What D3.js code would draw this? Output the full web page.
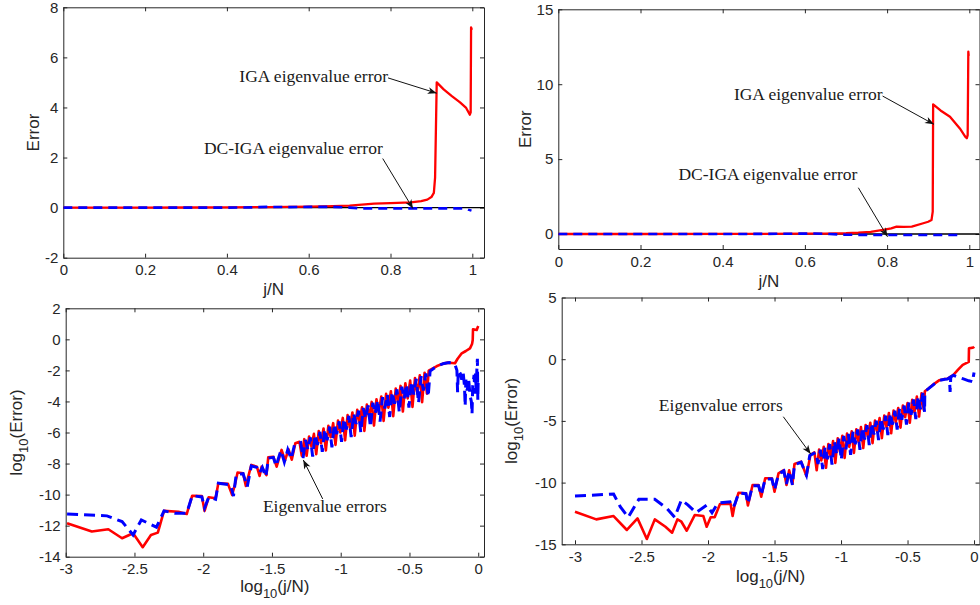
<!DOCTYPE html>
<html>
<head>
<meta charset="utf-8">
<script src="https://cdn.jsdelivr.net/npm/d3@7"></script>
<style>
  body { margin: 0; background: #fff; }
  svg { display: block; }
  .axis { color: #262626; }
  .axis .tick text { font-family: "Liberation Sans", Arial, sans-serif; font-size: 15px; fill: #262626; }
  .lab { font-family: "Liberation Sans", Arial, sans-serif; font-size: 17px; fill: #262626; }
  .note { font-family: "Liberation Serif", "Times New Roman", serif; font-size: 17.5px; fill: #1a1a1a; }
</style>
</head>
<body>
<div id="chart"></div>
<script>
// ---- data ----
// top row: error vs j/N
const igaTopA = [[0,0],[0.1,0],[0.2,0.002],[0.3,0.005],[0.4,0.01],[0.5,0.02],[0.55,0.03],[0.6,0.04],[0.66,0.056],[0.7,0.08],[0.76,0.16],[0.8,0.18],[0.85,0.21],[0.875,0.26],[0.89,0.32],[0.9,0.42],[0.906,0.59],[0.909,1.2],[0.913,5.0],[0.93,4.72],[0.95,4.45],[0.97,4.2],[0.985,3.98],[0.994,3.71],[0.996,3.8],[0.997,7.2],[0.999,7.1]];
const dcTopA = [[0,0],[0.1,0],[0.2,0],[0.3,0],[0.4,0],[0.46,0.01],[0.5,0.03],[0.55,0.02],[0.6,0.03],[0.66,0.03],[0.7,0],[0.73,-0.03],[0.8,-0.03],[0.9,-0.03],[0.96,-0.03],[0.985,-0.04],[0.99,-0.08],[0.998,-0.12]];
const igaTopB = [[0,0],[0.2,0],[0.4,0.005],[0.5,0.01],[0.6,0.02],[0.65,0.03],[0.7,0.05],[0.73,0.09],[0.76,0.15],[0.79,0.27],[0.81,0.38],[0.823,0.49],[0.84,0.48],[0.86,0.5],[0.888,0.72],[0.9,0.82],[0.908,0.93],[0.911,1.5],[0.912,8.66],[0.93,8.25],[0.953,7.83],[0.977,7.05],[0.99,6.5],[0.994,6.39],[0.996,6.6],[0.9976,12.17],[0.9985,11.9]];
const dcTopB = [[0,0],[0.2,0],[0.4,0],[0.5,0.01],[0.55,0.02],[0.62,0.03],[0.66,0],[0.7,-0.05],[0.8,-0.07],[0.9,-0.07],[0.98,-0.06]];

// bottom row: log10(error) vs log10(j/N)
const logIgaA = [[-2.99,-11.84],[-2.81,-12.38],[-2.69,-12.23],[-2.59,-12.81],[-2.51,-12.49],[-2.44,-13.39],[-2.38,-12.6],[-2.33,-12.45],[-2.285,-11.05],[-2.18,-11.1],[-2.12,-11.25],[-2.08,-10.07],[-2.01,-10.09],[-1.99,-11.05],[-1.96,-10.17],[-1.91,-10.23],[-1.89,-9.27],[-1.82,-9.31],[-1.79,-10.02],[-1.77,-9.38],[-1.75,-8.58],[-1.71,-8.62],[-1.69,-9.44],[-1.65,-8.09],[-1.61,-8.2],[-1.59,-8.8],[-1.575,-8.2],[-1.54,-8.75],[-1.527,-7.6],[-1.49,-7.56],[-1.466,-8.2],[-1.43,-7.12],[-1.405,-7.8],[-1.38,-7.08],[-1.356,-7.75],[-1.33,-6.69],[-1.3,-6.6],[-1.283,-7.5],[-1.265,-6.43],[-1.248,-7.5],[-1.23,-6.26],[-1.213,-6.9],[-1.195,-6.09],[-1.178,-7.4],[-1.16,-5.91],[-1.143,-6.7],[-1.125,-5.74],[-1.108,-7.15],[-1.09,-5.57],[-1.073,-6.3],[-1.055,-5.4],[-1.038,-6.8],[-1.02,-5.23],[-1.003,-6.0],[-0.985,-5.06],[-0.968,-6.5],[-0.95,-4.88],[-0.933,-5.7],[-0.915,-4.71],[-0.898,-6.2],[-0.88,-4.54],[-0.863,-5.3],[-0.845,-4.37],[-0.828,-5.9],[-0.81,-4.2],[-0.793,-5.0],[-0.775,-4.03],[-0.758,-5.55],[-0.74,-3.86],[-0.723,-4.7],[-0.705,-3.68],[-0.688,-5.25],[-0.67,-3.51],[-0.653,-4.4],[-0.635,-3.34],[-0.618,-4.95],[-0.6,-3.17],[-0.583,-4.1],[-0.565,-3.0],[-0.548,-4.65],[-0.53,-2.83],[-0.513,-3.8],[-0.495,-2.66],[-0.478,-4.35],[-0.46,-2.49],[-0.443,-3.5],[-0.425,-2.32],[-0.408,-4.05],[-0.39,-2.15],[-0.373,-3.5],[-0.36,-2.02],[-0.33,-1.87],[-0.3,-1.72],[-0.26,-1.58],[-0.22,-1.5],[-0.19,-1.52],[-0.169,-1.54],[-0.15,-1.25],[-0.12,-0.9],[-0.09,-0.75],[-0.06,-0.58],[-0.045,-0.3],[-0.04,-0.04],[-0.038,0.65],[-0.02,0.62],[-0.011,0.6],[-0.005,0.75],[0,0.86]];
const logDcA = [[-2.99,-11.25],[-2.7,-11.37],[-2.59,-11.74],[-2.51,-12.6],[-2.45,-11.63],[-2.34,-12.1],[-2.285,-11.05],[-2.205,-11.2],[-2.12,-11.2],[-2.08,-10.07],[-2.01,-10.15],[-1.99,-10.85],[-1.96,-10.17],[-1.91,-10.3],[-1.89,-9.27],[-1.8,-9.38],[-1.78,-10.1],[-1.76,-8.7],[-1.71,-8.65],[-1.68,-9.5],[-1.65,-8.15],[-1.61,-8.25],[-1.59,-8.6],[-1.57,-8.25],[-1.545,-8.85],[-1.525,-7.65],[-1.49,-7.6],[-1.47,-8.15],[-1.435,-7.15],[-1.41,-7.9],[-1.385,-7.1],[-1.36,-7.7],[-1.335,-6.75],[-1.291,-6.65],[-1.274,-7.65],[-1.256,-6.48],[-1.239,-7.1],[-1.221,-6.31],[-1.204,-7.55],[-1.186,-6.14],[-1.169,-6.8],[-1.151,-5.96],[-1.134,-7.25],[-1.116,-5.79],[-1.099,-6.5],[-1.081,-5.62],[-1.064,-6.95],[-1.046,-5.45],[-1.029,-6.1],[-1.011,-5.28],[-0.994,-6.6],[-0.976,-5.11],[-0.959,-5.8],[-0.941,-4.93],[-0.924,-6.3],[-0.906,-4.76],[-0.889,-5.45],[-0.871,-4.59],[-0.854,-6.0],[-0.836,-4.42],[-0.819,-5.1],[-0.801,-4.25],[-0.784,-5.65],[-0.766,-4.08],[-0.749,-4.8],[-0.731,-3.91],[-0.714,-5.3],[-0.696,-3.73],[-0.679,-4.45],[-0.661,-3.56],[-0.644,-5.0],[-0.626,-3.39],[-0.609,-4.15],[-0.591,-3.22],[-0.574,-4.7],[-0.556,-3.05],[-0.539,-3.85],[-0.521,-2.88],[-0.504,-4.4],[-0.486,-2.71],[-0.469,-3.55],[-0.451,-2.54],[-0.434,-4.1],[-0.416,-2.37],[-0.399,-3.3],[-0.381,-2.2],[-0.364,-3.7],[-0.35,-2.05],[-0.32,-1.85],[-0.29,-1.7],[-0.25,-1.55],[-0.21,-1.5],[-0.19,-1.55],[-0.17,-1.6],[-0.155,-2.0],[-0.15,-3.4],[-0.145,-2.0],[-0.13,-2.2],[-0.12,-2.6],[-0.11,-2.1],[-0.1,-3.0],[-0.095,-4.3],[-0.09,-2.6],[-0.08,-3.3],[-0.07,-2.5],[-0.06,-3.6],[-0.05,-4.0],[-0.045,-4.8],[-0.04,-3.0],[-0.03,-2.3],[-0.025,-3.5],[-0.02,-2.2],[-0.015,-3.2],[-0.01,-2.0],[-0.006,-1.25],[-0.003,-3.9],[0,-2.5]];
const logIgaB = [[-3,-12.36],[-2.84,-12.98],[-2.71,-12.71],[-2.61,-13.84],[-2.53,-12.9],[-2.46,-14.57],[-2.4,-12.98],[-2.32,-13.58],[-2.27,-14.06],[-2.23,-12.98],[-2.2,-13.17],[-2.16,-13.9],[-2.1,-12.63],[-2.035,-12.71],[-2.01,-13.58],[-1.98,-12.81],[-1.95,-12.81],[-1.91,-11.74],[-1.83,-11.74],[-1.815,-12.71],[-1.8,-11.82],[-1.77,-10.82],[-1.715,-10.87],[-1.7,-11.85],[-1.665,-10.2],[-1.62,-10.2],[-1.6,-11.14],[-1.57,-9.65],[-1.52,-9.65],[-1.5,-10.74],[-1.47,-9.25],[-1.43,-8.98],[-1.41,-10.19],[-1.39,-9.0],[-1.365,-10.1],[-1.35,-8.49],[-1.3,-8.3],[-1.26,-9.46],[-1.23,-7.76],[-1.2,-7.55],[-1.183,-9.0],[-1.165,-7.32],[-1.148,-8.2],[-1.13,-7.1],[-1.113,-8.8],[-1.095,-6.87],[-1.078,-7.9],[-1.06,-6.64],[-1.043,-8.4],[-1.025,-6.41],[-1.008,-7.5],[-0.99,-6.2],[-0.973,-8.0],[-0.955,-6.03],[-0.938,-7.1],[-0.92,-5.85],[-0.903,-7.6],[-0.885,-5.68],[-0.868,-6.7],[-0.85,-5.5],[-0.833,-7.2],[-0.815,-5.33],[-0.798,-6.3],[-0.78,-5.15],[-0.763,-6.8],[-0.745,-4.97],[-0.728,-5.9],[-0.71,-4.77],[-0.693,-6.4],[-0.675,-4.57],[-0.658,-5.5],[-0.64,-4.36],[-0.623,-6.0],[-0.605,-4.16],[-0.588,-5.1],[-0.57,-3.96],[-0.553,-5.55],[-0.535,-3.75],[-0.518,-4.7],[-0.5,-3.55],[-0.483,-5.15],[-0.465,-3.29],[-0.448,-4.3],[-0.43,-3.03],[-0.413,-4.65],[-0.395,-2.76],[-0.378,-4.1],[-0.37,-2.6],[-0.34,-2.35],[-0.3,-2.0],[-0.26,-1.7],[-0.22,-1.6],[-0.2,-1.58],[-0.18,-1.45],[-0.155,-1.27],[-0.12,-0.85],[-0.085,-0.46],[-0.04,-0.22],[-0.038,0.89],[-0.02,0.92],[-0.005,0.95],[0,1.02]];
const logDcB = [[-3,-11.09],[-2.71,-10.92],[-2.66,-11.95],[-2.6,-12.81],[-2.52,-11.35],[-2.4,-11.35],[-2.31,-12.08],[-2.25,-12.81],[-2.2,-11.41],[-2.15,-11.82],[-2.09,-12.44],[-2.01,-11.82],[-1.97,-12.44],[-1.935,-11.82],[-1.91,-11.63],[-1.835,-11.55],[-1.815,-12.0],[-1.8,-11.8],[-1.77,-10.85],[-1.715,-10.9],[-1.7,-11.7],[-1.665,-10.25],[-1.62,-10.25],[-1.6,-11.0],[-1.57,-9.7],[-1.52,-9.7],[-1.5,-10.6],[-1.47,-9.3],[-1.43,-9.05],[-1.41,-10.1],[-1.39,-9.05],[-1.365,-10.2],[-1.35,-8.55],[-1.3,-8.35],[-1.26,-9.4],[-1.235,-7.8],[-1.19,-7.55],[-1.173,-8.5],[-1.155,-7.33],[-1.138,-8.9],[-1.12,-7.1],[-1.103,-8.1],[-1.085,-6.88],[-1.068,-8.55],[-1.05,-6.65],[-1.033,-7.7],[-1.015,-6.42],[-0.998,-8.15],[-0.98,-6.22],[-0.963,-7.3],[-0.945,-6.05],[-0.928,-7.75],[-0.91,-5.87],[-0.893,-6.9],[-0.875,-5.7],[-0.858,-7.35],[-0.84,-5.52],[-0.823,-6.5],[-0.805,-5.35],[-0.788,-6.95],[-0.77,-5.17],[-0.753,-6.1],[-0.735,-4.98],[-0.718,-6.55],[-0.7,-4.78],[-0.683,-5.7],[-0.665,-4.58],[-0.648,-6.15],[-0.63,-4.37],[-0.613,-5.3],[-0.595,-4.17],[-0.578,-5.7],[-0.56,-3.97],[-0.543,-4.9],[-0.525,-3.76],[-0.508,-5.3],[-0.49,-3.52],[-0.473,-4.5],[-0.455,-3.26],[-0.438,-4.85],[-0.42,-3.0],[-0.403,-4.05],[-0.385,-2.73],[-0.372,-4.3],[-0.37,-2.62],[-0.34,-2.37],[-0.3,-2.02],[-0.26,-1.72],[-0.22,-1.62],[-0.2,-1.6],[-0.185,-1.5],[-0.18,-2.65],[-0.175,-1.45],[-0.155,-1.3],[-0.12,-1.45],[-0.08,-1.6],[-0.04,-1.75],[-0.02,-1.8],[-0.008,-1.85],[-0.005,-1.4],[0,-1.08]];

// tick values
const fracTicks = [0, 0.2, 0.4, 0.6, 0.8, 1];
const errTicksA = [-2, 0, 2, 4, 6, 8];
const errTicksB = [0, 5, 10, 15];
const logXTicks = [-3, -2.5, -2, -1.5, -1, -0.5, 0];
const logYTicksA = [-14, -12, -10, -8, -6, -4, -2, 0, 2];
const logYTicksB = [-15, -10, -5, 0, 5];

const igaNote = "IGA eigenvalue error";
const dcNote = "DC-IGA eigenvalue error";
const eigNote = "Eigenvalue errors";

// ---- layout ----
const panels = [
  { box: [63.3, 7.3, 484, 257.7], xDomain: [0, 1.0286], yDomain: [-2, 8],
    xTicks: fracTicks, yTicks: errTicksA, red: igaTopA, blue: dcTopA, zero: true,
    lw: [2.3, 2.6], dash: "9,6",
    xLabel: ["j/N"], xLabelY: 295, yLabel: ["Error"], yLabelX: 39.3,
    notes: [
      { text: igaNote, t: [0.794, 5.02], a: [[0.794, 5.18], [0.913, 4.57]] },
      { text: dcNote, t: [0.781, 2.16], a: [[0.781, 1.96], [0.855, -0.04]] }
    ] },
  { box: [558.3, 9.3, 979.5, 249], xDomain: [0, 1.0248], yDomain: [-1, 15],
    xTicks: fracTicks, yTicks: errTicksB, red: igaTopB, blue: dcTopB, zero: true,
    lw: [2.3, 2.6], dash: "9,6",
    xLabel: ["j/N"], xLabelY: 286.5, yLabel: ["Error"], yLabelX: 530.7,
    notes: [
      { text: igaNote, t: [0.789, 8.95], a: [[0.789, 9.21], [0.914, 7.32]] },
      { text: dcNote, t: [0.7275, 3.6], a: [[0.73, 3.09], [0.801, -0.18]] }
    ] },
  { box: [65.7, 308.3, 484, 556.7], xDomain: [-3, 0.042], yDomain: [-14, 2],
    xTicks: logXTicks, yTicks: logYTicksA, red: logIgaA, blue: logDcA, zero: false,
    lw: [2.6, 3.0], dash: "11,6",
    xLabel: ["log", "10", "(j/N)"], xLabelY: 592, yLabel: ["log", "10", "(Error)"], yLabelX: 21.5,
    notes: [
      { text: eigNote, t: [-0.665, -11.14], a: [[-1.131, -10.28], [-1.272, -7.77]] }
    ] },
  { box: [561.7, 297.5, 979.5, 544.3], xDomain: [-3.1, 0.041], yDomain: [-15, 5],
    xTicks: logXTicks, yTicks: logYTicksB, red: logIgaB, blue: logDcB, zero: false,
    lw: [2.6, 3.0], dash: "11,6",
    xLabel: ["log", "10", "(j/N)"], xLabelY: 581.5, yLabel: ["log", "10", "(Error)"], yLabelX: 517,
    notes: [
      { text: eigNote, t: [-1.438, -4.19], a: [[-1.434, -4.66], [-1.228, -7.68]] }
    ] }
];

const svg = d3.select("#chart").append("svg")
  .attr("width", 980)
  .attr("height", 605);

const defs = svg.append("defs");
defs.append("marker")
  .attr("id", "head")
  .attr("viewBox", "-10 -5 10 10")
  .attr("refX", 0).attr("refY", 0)
  .attr("markerWidth", 10).attr("markerHeight", 10)
  .attr("markerUnits", "userSpaceOnUse")
  .attr("orient", "auto")
  .append("path")
  .attr("d", "M0,0L-9,-3.5L-6.5,0L-9,3.5Z")
  .attr("fill", "#111");

panels.forEach((p, i) => drawPanel(p, i));

function addLabel(sel, parts) {
  sel.append("tspan").text(parts[0]);
  if (parts.length > 1) {
    sel.append("tspan").attr("dy", 6).attr("font-size", 13).text(parts[1]);
    sel.append("tspan").attr("dy", -6).text(parts[2]);
  }
}

function drawPanel(p, i) {
  const [x0, y0, x1, y1] = p.box;
  const x = d3.scaleLinear().domain(p.xDomain).range([x0, x1]);
  const y = d3.scaleLinear().domain(p.yDomain).range([y1, y0]);
  const fmt = d => String(d);
  const g = svg.append("g");

  defs.append("clipPath").attr("id", `clip${i}`)
    .append("rect").attr("x", x0).attr("y", y0).attr("width", x1 - x0).attr("height", y1 - y0);

  // box with inward ticks
  g.append("g").attr("class", "axis").attr("transform", `translate(0,${y1})`)
    .call(d3.axisBottom(x).tickValues(p.xTicks).tickFormat(fmt).tickSizeInner(-4).tickSizeOuter(0).tickPadding(7));
  g.append("g").attr("class", "axis").attr("transform", `translate(0,${y0})`)
    .call(d3.axisTop(x).tickValues(p.xTicks).tickFormat("").tickSizeInner(-4).tickSizeOuter(0));
  g.append("g").attr("class", "axis").attr("transform", `translate(${x0},0)`)
    .call(d3.axisLeft(y).tickValues(p.yTicks).tickFormat(fmt).tickSizeInner(-4).tickSizeOuter(0).tickPadding(5));
  g.append("g").attr("class", "axis").attr("transform", `translate(${x1},0)`)
    .call(d3.axisRight(y).tickValues(p.yTicks).tickFormat("").tickSizeInner(-4).tickSizeOuter(0));

  const plot = g.append("g").attr("clip-path", `url(#clip${i})`);
  const line = d3.line().x(d => x(d[0])).y(d => y(d[1]));

  if (p.zero) {
    plot.append("line")
      .attr("x1", x(p.xDomain[0])).attr("x2", x(p.xDomain[1]))
      .attr("y1", y(0)).attr("y2", y(0))
      .attr("stroke", "#000").attr("stroke-width", 1.3);
  }

  plot.append("path").datum(p.red)
    .attr("fill", "none").attr("stroke", "#ff0000")
    .attr("stroke-width", p.lw[0]).attr("stroke-linejoin", "round")
    .attr("d", line);

  plot.append("path").datum(p.blue)
    .attr("fill", "none").attr("stroke", "#0000ff")
    .attr("stroke-width", p.lw[1]).attr("stroke-dasharray", p.dash)
    .attr("d", line);

  // annotations
  p.notes.forEach(n => {
    g.append("line")
      .attr("x1", x(n.a[0][0])).attr("y1", y(n.a[0][1]))
      .attr("x2", x(n.a[1][0])).attr("y2", y(n.a[1][1]))
      .attr("stroke", "#111").attr("stroke-width", 1)
      .attr("marker-end", "url(#head)");
    g.append("text").attr("class", "note")
      .attr("x", x(n.t[0])).attr("y", y(n.t[1]))
      .attr("text-anchor", "end")
      .text(n.text);
  });

  // axis labels
  const xl = g.append("text").attr("class", "lab")
    .attr("x", (x0 + x1) / 2).attr("y", p.xLabelY)
    .attr("text-anchor", "middle");
  addLabel(xl, p.xLabel);

  const yl = g.append("text").attr("class", "lab")
    .attr("transform", `translate(${p.yLabelX},${(y0 + y1) / 2}) rotate(-90)`)
    .attr("text-anchor", "middle");
  addLabel(yl, p.yLabel);
}
</script>
</body>
</html>
